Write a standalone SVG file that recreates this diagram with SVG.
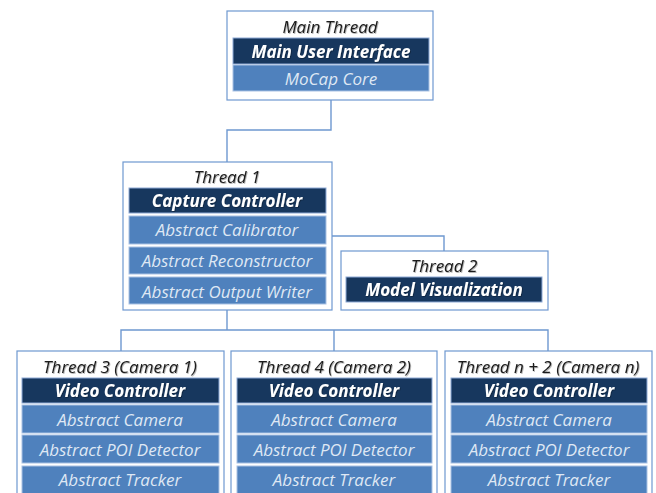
<svg xmlns="http://www.w3.org/2000/svg" width="656" height="493" viewBox="0 0 656 493">
  <defs>
    <filter id="shadow" x="-10%" y="-30%" width="120%" height="160%">
      <feDropShadow dx="0.8" dy="0.8" stdDeviation="0.4" flood-color="#000" flood-opacity="0.35"/>
    </filter>
  </defs>
  <style>
    .box { fill: #ffffff; stroke: #6e98d0; stroke-width: 1.2; }
    .dark { fill: #17375e; stroke: #8eaad6; stroke-width: 1; }
    .mid { fill: #4f81bd; stroke: #a9c1e3; stroke-width: 1; }
    .wire { fill: none; stroke: #6e98d0; stroke-width: 1.4; }
    text { font-family: "Open Sans", "Liberation Sans", sans-serif; font-style: italic; text-anchor: middle; font-size: 17px; }
    .title { fill: #1a1a1a; filter: url(#shadow); }
    .strong { fill: #ffffff; font-weight: bold; filter: url(#shadow); }
    .soft { fill: #dfe8f4; }
  </style>

  <!-- connectors -->
  <g id="connectors">
    <path class="wire" d="M331,100 V130 H227 V162"/>
    <path class="wire" d="M332,236 H444 V251"/>
    <path class="wire" d="M227,310 V330"/>
    <path class="wire" d="M121,351 V330 H548 V351"/>
    <path class="wire" d="M334,330 V351"/>
  </g>

  <!-- main thread -->
  <g id="main-thread">
    <rect class="box" x="227" y="11" width="206" height="89"/>
    <text class="title" x="330" y="33">Main Thread</text>
    <rect class="dark" x="233" y="38" width="196" height="26"/>
    <text class="strong" x="331" y="57.5">Main User Interface</text>
    <rect class="mid" x="233" y="65" width="196" height="26"/>
    <text class="soft" x="331" y="84.5">MoCap Core</text>
  </g>

  <!-- thread 1 -->
  <g id="thread-1">
    <rect class="box" x="123" y="162" width="209" height="148"/>
    <text class="title" x="227" y="183">Thread 1</text>
    <rect class="dark" x="129" y="188" width="197" height="25"/>
    <text class="strong" x="227" y="206.5">Capture Controller</text>
    <rect class="mid" x="129" y="216" width="197" height="28"/>
    <text class="soft" x="227" y="236">Abstract Calibrator</text>
    <rect class="mid" x="129" y="247" width="197" height="27"/>
    <text class="soft" x="227" y="267">Abstract Reconstructor</text>
    <rect class="mid" x="129" y="277" width="197" height="27"/>
    <text class="soft" x="227" y="297.5">Abstract Output Writer</text>
  </g>

  <!-- thread 2 -->
  <g id="thread-2">
    <rect class="box" x="341" y="251" width="207" height="59"/>
    <text class="title" x="444" y="272">Thread 2</text>
    <rect class="dark" x="346" y="277" width="196" height="25"/>
    <text class="strong" x="444" y="295.5">Model Visualization</text>
  </g>

  <!-- thread 3 -->
  <g id="thread-3">
    <rect class="box" x="17" y="351" width="207" height="150"/>
    <text class="title" x="120" y="372.5">Thread 3 (Camera 1)</text>
    <rect class="dark" x="22" y="378" width="197" height="25"/>
    <text class="strong" x="120" y="396.5">Video Controller</text>
    <rect class="mid" x="22" y="405" width="197" height="28"/>
    <text class="soft" x="120" y="425.5">Abstract Camera</text>
    <rect class="mid" x="22" y="435" width="197" height="28"/>
    <text class="soft" x="120" y="455.5">Abstract POI Detector</text>
    <rect class="mid" x="22" y="466" width="197" height="30"/>
    <text class="soft" x="120" y="486">Abstract Tracker</text>
  </g>

  <!-- thread 4 -->
  <g id="thread-4">
    <rect class="box" x="231" y="351" width="206" height="150"/>
    <text class="title" x="334" y="372.5">Thread 4 (Camera 2)</text>
    <rect class="dark" x="237" y="378" width="195" height="25"/>
    <text class="strong" x="334" y="396.5">Video Controller</text>
    <rect class="mid" x="237" y="405" width="195" height="28"/>
    <text class="soft" x="334" y="425.5">Abstract Camera</text>
    <rect class="mid" x="237" y="435" width="195" height="28"/>
    <text class="soft" x="334" y="455.5">Abstract POI Detector</text>
    <rect class="mid" x="237" y="466" width="195" height="30"/>
    <text class="soft" x="334" y="486">Abstract Tracker</text>
  </g>

  <!-- thread n + 2 -->
  <g id="thread-n2">
    <rect class="box" x="445" y="351" width="207" height="150"/>
    <text class="title" x="548" y="372.5">Thread n + 2 (Camera n)</text>
    <rect class="dark" x="451" y="378" width="196" height="25"/>
    <text class="strong" x="549" y="396.5">Video Controller</text>
    <rect class="mid" x="451" y="405" width="196" height="28"/>
    <text class="soft" x="549" y="425.5">Abstract Camera</text>
    <rect class="mid" x="451" y="435" width="196" height="28"/>
    <text class="soft" x="549" y="455.5">Abstract POI Detector</text>
    <rect class="mid" x="451" y="466" width="196" height="30"/>
    <text class="soft" x="549" y="486">Abstract Tracker</text>
  </g>
</svg>
